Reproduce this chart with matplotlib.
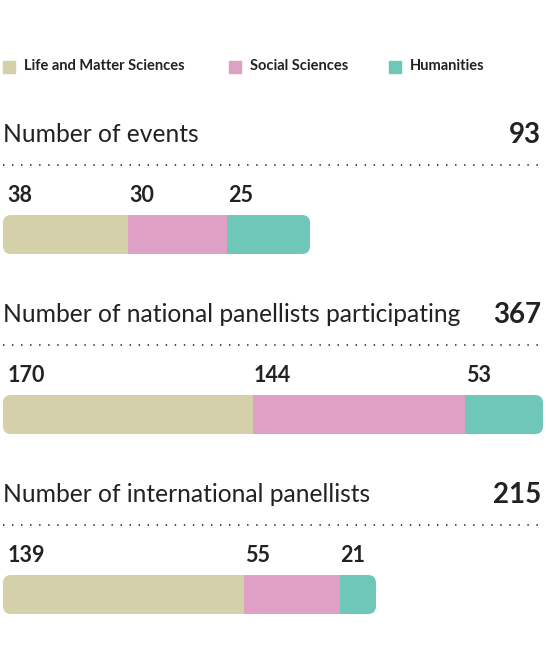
import matplotlib
matplotlib.use('Agg')
from matplotlib import pyplot as plt
from matplotlib.patches import FancyBboxPatch, Rectangle
from matplotlib.lines import Line2D

plt.rcParams['font.family'] = ['Lato', 'DejaVu Sans']

categories = ['Life and Matter Sciences', 'Social Sciences', 'Humanities']
colors = ['#d3d0aa', '#dfa0c6', '#6fc7b7']

titles = ['Number of events',
          'Number of national panellists participating',
          'Number of international panellists']
events = [38, 30, 25]
national = [170, 144, 53]
international = [139, 55, 21]
rows = [events, national, international]

W, H = 546, 670
fig = plt.figure(figsize=(W / 100, H / 100), dpi=100)


def fx(px):
    return px / W


def fy(py):
    return 1 - py / H


# legend
leg_x = [3, 229, 389]
for i, cat in enumerate(categories):
    fig.patches.append(Rectangle((fx(leg_x[i]), fy(72.5)), fx(12), 12 / H,
                                 transform=fig.transFigure, color=colors[i]))
    fig.text(fx(leg_x[i] + 21), fy(66), cat, fontsize=10.5, fontweight='bold',
             color='#222222', va='center', ha='left')

# bar lengths in pixels for each row (layout)
bar_len = [307, 540, 373]
top0 = 134
step = 180

for r, vals in enumerate(rows):
    total = sum(vals)
    ty = top0 + r * step
    fig.text(fx(3), fy(ty + 8), titles[r], fontsize=17.7, color='#222222',
             va='baseline', ha='left')
    fig.text(fx(541), fy(ty + 9), str(total), fontsize=20, fontweight='bold',
             color='#222222', va='baseline', ha='right')
    fig.add_artist(Line2D([fx(3), fx(543)], [fy(ty + 31), fy(ty + 31)],
                          transform=fig.transFigure, color='#444444',
                          lw=1.4, linestyle=(0, (0.7, 3.95))))

    bar_top = ty + 81
    ax = fig.add_axes([fx(3), fy(bar_top + 39), fx(bar_len[r]), 39 / H])
    ax.set_xlim(0, total)
    ax.set_ylim(0, 1)
    ax.axis('off')
    clip = FancyBboxPatch((3 / 100, (H - bar_top - 39) / 100),
                          bar_len[r] / 100, 39 / 100,
                          boxstyle='round,pad=0,rounding_size=0.08',
                          transform=fig.dpi_scale_trans, facecolor='none',
                          edgecolor='none')
    fig.patches.append(clip)
    left = 0
    for i, v in enumerate(vals):
        b = ax.barh(0.5, v, left=left, height=1, color=colors[i], lw=0)
        for p in b:
            p.set_clip_path(clip)
        ax.annotate(str(v), xy=(left, 1), xycoords=('data', 'axes fraction'),
                    xytext=(3 if i == 0 else 0.5, 9), textcoords='offset points',
                    fontsize=15.5, fontweight='bold', color='#222222',
                    ha='left', va='baseline', annotation_clip=False)
        left += v

fig.savefig('out.png', dpi=100)
